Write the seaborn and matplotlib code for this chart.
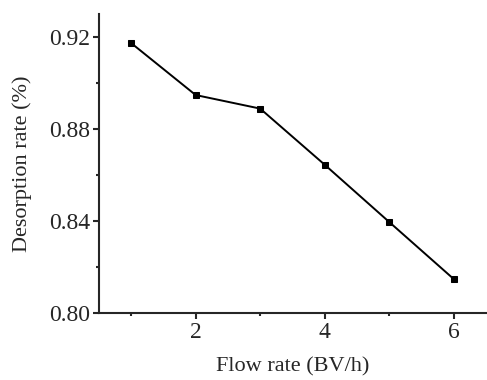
import numpy as np
import pandas as pd
import matplotlib
matplotlib.use('Agg')
import matplotlib.pyplot as plt
import seaborn as sns
from matplotlib.ticker import MultipleLocator

# Dados
flow_rate = [1, 2, 3, 4, 5, 6]
desorption = [0.9174, 0.8948, 0.8889, 0.8645, 0.8396, 0.8148]
y_ticks = [0.80, 0.84, 0.88, 0.92]
x_ticks = [2, 4, 6]

sns.set_style('ticks')
plt.rcParams['font.family'] = ['Liberation Serif', 'DejaVu Serif']

df = pd.DataFrame({'Flow': flow_rate, 'Desorption': desorption})

fig = plt.figure(figsize=(4.87, 3.80), dpi=100)
ax = fig.add_axes([0.203, 0.176, 0.795, 0.787])

sns.lineplot(data=df, x='Flow', y='Desorption', ax=ax, color='black',
             linewidth=1.4, marker='s', markersize=5, markeredgecolor='black',
             markerfacecolor='black')

ax.set_xlim(0.5, 6.5)
ax.set_ylim(0.80, 0.93)
ax.set_xticks(x_ticks)
ax.set_yticks(y_ticks)
ax.set_yticklabels([f'{v:.2f}' for v in y_ticks])
ax.xaxis.set_minor_locator(MultipleLocator(1))
ax.yaxis.set_minor_locator(MultipleLocator(0.02))

sns.despine(ax=ax)
for s in ['left', 'bottom']:
    ax.spines[s].set_linewidth(1.5)
ax.tick_params(which='major', direction='out', length=4.5, width=1.5, labelsize=17, pad=2)
ax.tick_params(which='minor', direction='out', length=2.5, width=1.5)

ax.set_xlabel('Flow rate (BV/h)', fontsize=16, labelpad=10)
ax.set_ylabel('Desorption rate (%)', fontsize=16, labelpad=12)

fig.savefig('out.png', dpi=100)
